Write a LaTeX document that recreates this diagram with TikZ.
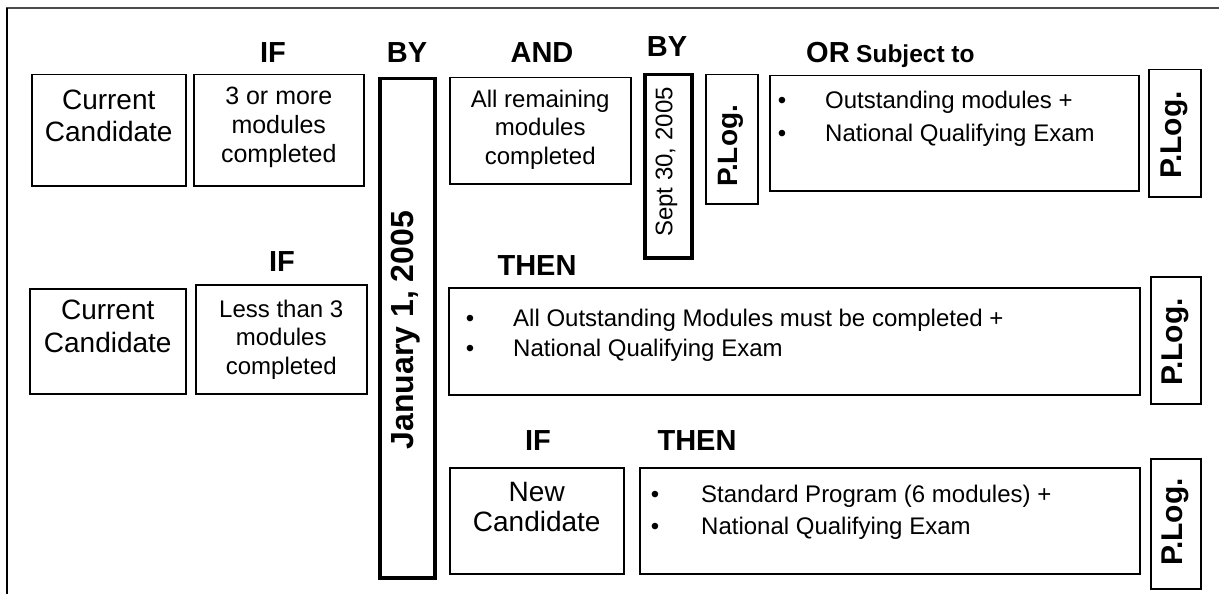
\documentclass[tikz,border=0pt]{standalone}
\usepackage{fontspec}
\setmainfont{Liberation Sans}
\begin{document}
\begin{tikzpicture}[x=1pt,y=-1pt,
  box/.style={draw, line width=1.5pt, inner sep=0pt, anchor=north west},
  thickbox/.style={box, line width=3.5pt},
  lbl/.style={font=\fontsize{29}{34}\selectfont\bfseries, anchor=base, inner sep=0pt},
  btxt/.style={font=\fontsize{24}{28.5}\selectfont, anchor=north, align=center, inner sep=0pt},
  bigtxt/.style={font=\fontsize{28}{32}\selectfont, anchor=north, align=center, inner sep=0pt},
  item/.style={font=\fontsize{24}{28}\selectfont, anchor=base west, inner sep=0pt},
  bul/.style={font=\fontsize{24}{28}\selectfont, anchor=base, inner sep=0pt},
  plog/.style={font=\fontsize{30}{34}\selectfont\bfseries, rotate=90, inner sep=0pt},
]
\useasboundingbox (0,0) rectangle (1219,594);
% frame
\coordinate (fl) at (6,8);
\coordinate (fr) at (1219,8);
\coordinate (ft) at (7,8);
\coordinate (fb) at (7,594);
\draw[line width=1.8pt, black!70] (fl) -- (fr);
\draw[line width=2.2pt] (ft) -- (fb);

% row 1
\node[box, minimum width=154pt, minimum height=111pt] (cc1) at (31,74) {};
\node[box, minimum width=170pt, minimum height=111pt] (m3) at (193,74) {};
\node[thickbox, minimum width=55pt, minimum height=499pt] (jan) at (378,77) {};
\node[box, minimum width=181pt, minimum height=106pt] (rem) at (449,77) {};
\node[thickbox, minimum width=47pt, minimum height=183pt] (sept) at (643,73) {};
\node[box, minimum width=52pt, minimum height=129pt] (plogA) at (705,74) {};
\node[box, minimum width=369pt, minimum height=115pt] (orb) at (769,75) {};
\node[box, minimum width=52pt, minimum height=127pt] (plogB) at (1148,69) {};

\node[bigtxt] (tcc1) at ([yshift=-16pt]cc1.north) {Current\\Candidate};
\node[btxt, font=\fontsize{25}{29}\selectfont] (tm3) at ([yshift=-13pt]m3.north) {3 or more\\modules\\completed};
\node[btxt] (trem) at ([yshift=-12.5pt]rem.north) {All remaining\\modules\\completed};
\node[font=\fontsize{32}{36}\selectfont\bfseries, rotate=90, inner sep=0pt] (tjan) at (405.5,330) {January 1, 2005};
\node[font=\fontsize{24}{28}\selectfont, rotate=90, inner sep=0pt] (tsept) at (666.5,162) {Sept 30, 2005};
\node[plog, font=\fontsize{28}{32}\selectfont\bfseries] (tplogA) at (731,146) {P.Log.};
\node[plog] (tplogB) at (1174,135) {P.Log.};
\node[bul] (b1) at (782,108) {•};
\node[bul] (b2) at (782,141) {•};
\node[item] (o1) at (825,108) {Outstanding modules +};
\node[item] (o2) at (825,141) {National Qualifying Exam};

\node[lbl] (if1) at (273,63) {IF};
\node[lbl] (by1) at (407,63) {BY};
\node[lbl] (and) at (542,63) {AND};
\node[lbl] (by2) at (667,57) {BY};
\node[lbl, anchor=base west] (or) at (806,63) {OR};
\node[font=\fontsize{24.5}{28}\selectfont\bfseries, anchor=base west, inner sep=0pt] (subj) at (856,63) {Subject to};

% row 2
\node[box, minimum width=156pt, minimum height=105pt] (cc2) at (29,288) {};
\node[box, minimum width=171pt, minimum height=109pt] (lt3) at (195,284) {};
\node[box, minimum width=691pt, minimum height=107pt] (thenA) at (448,287) {};
\node[box, minimum width=50pt, minimum height=127pt] (plogC) at (1150,276) {};

\node[bigtxt, font=\fontsize{28}{33}\selectfont] (tcc2) at ([yshift=-12pt]cc2.north) {Current\\Candidate};
\node[btxt] (tlt3) at ([yshift=-15.5pt]lt3.north) {Less than 3\\modules\\completed};
\node[plog] (tplogC) at (1175,342) {P.Log.};
\node[bul] (b3) at (470,326) {•};
\node[bul] (b4) at (470,356) {•};
\node[item] (a1) at (513,326) {All Outstanding Modules must be completed +};
\node[item] (a2) at (513,356) {National Qualifying Exam};
\node[lbl] (if2) at (282,271) {IF};
\node[lbl] (then1) at (537,275) {THEN};

% row 3
\node[box, minimum width=174pt, minimum height=106pt] (newc) at (449,467) {};
\node[box, minimum width=500pt, minimum height=106pt] (thenB) at (639,467) {};
\node[box, minimum width=50pt, minimum height=130pt] (plogD) at (1150,458) {};

\node[bigtxt, font=\fontsize{28}{30}\selectfont] (tnew) at ([yshift=-15pt]newc.north) {New\\Candidate};
\node[plog] (tplogD) at (1175,522) {P.Log.};
\node[bul] (b5) at (655,502) {•};
\node[bul] (b6) at (655,534) {•};
\node[item] (s1) at (701,502) {Standard Program (6 modules) +};
\node[item] (s2) at (701,534) {National Qualifying Exam};
\node[lbl] (if3) at (538,450) {IF};
\node[lbl] (then2) at (697,450) {THEN};
\end{tikzpicture}
\end{document}
